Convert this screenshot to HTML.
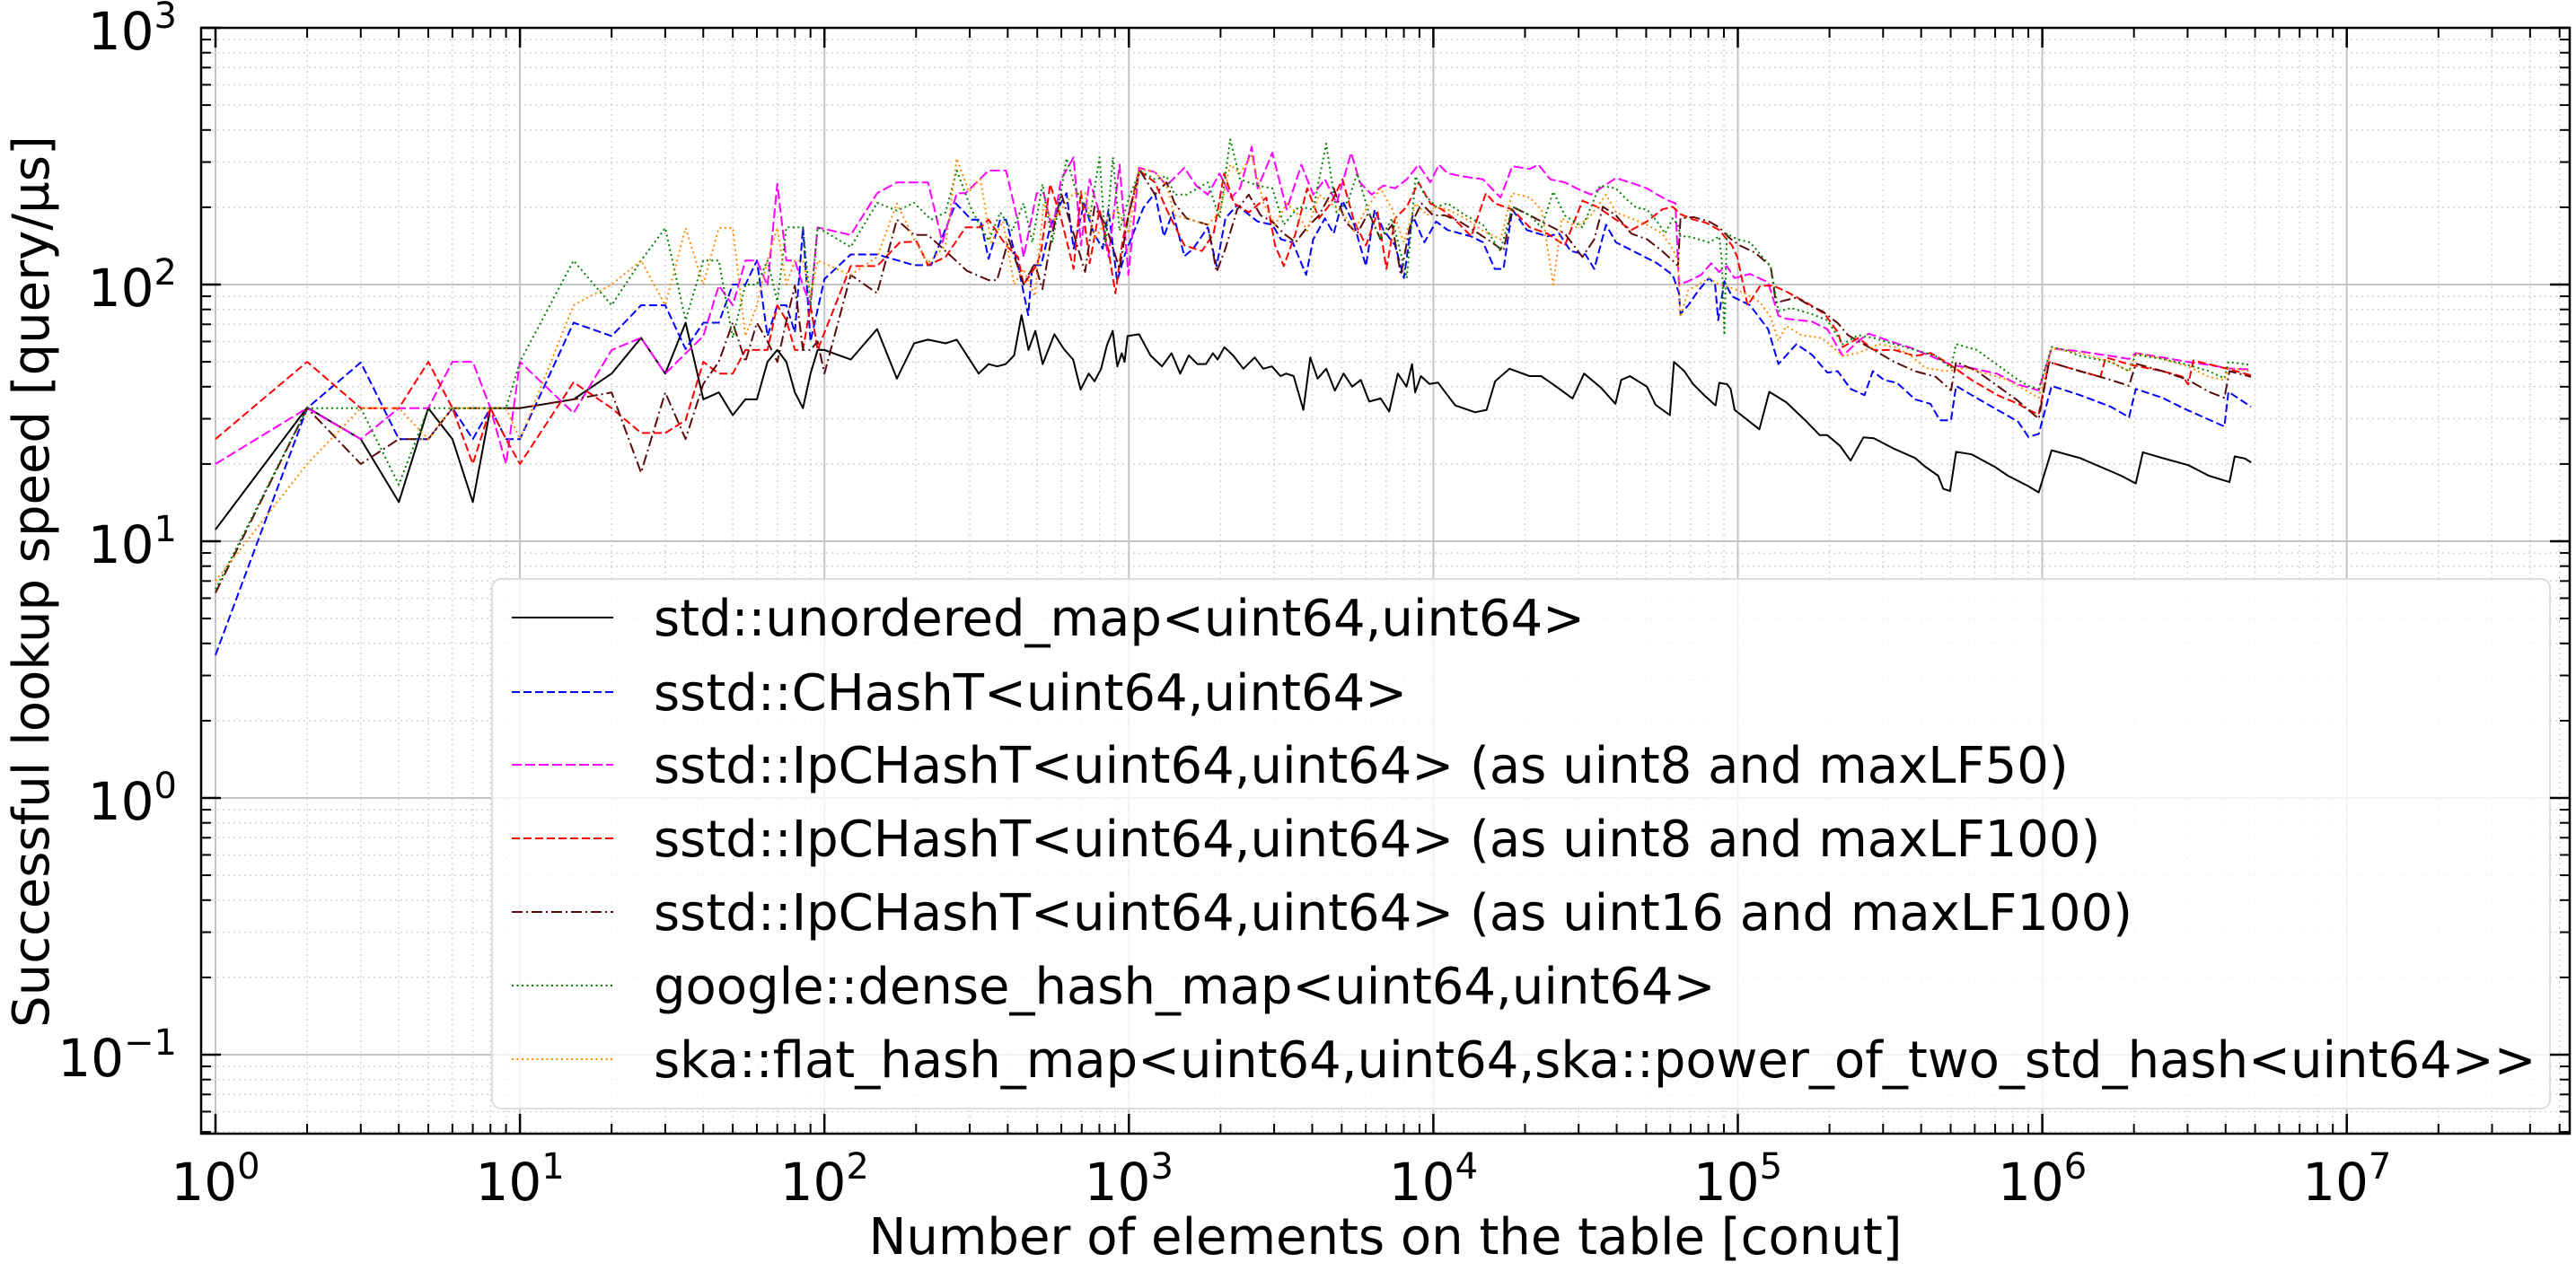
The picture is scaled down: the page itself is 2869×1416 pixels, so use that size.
<!DOCTYPE html>
<html><head><meta charset="utf-8"><style>
html,body{margin:0;padding:0;background:#fff;}
svg{display:block;font-family:"DejaVu Sans","Liberation Sans",sans-serif;}
</style></head><body>
<svg id="chart" width="2869" height="1416" viewBox="0 0 2869 1416" xmlns="http://www.w3.org/2000/svg">
<defs><clipPath id="plotclip"><rect x="224" y="31" width="2638" height="1232"/></clipPath></defs>
<rect x="0" y="0" width="2869" height="1416" fill="#fff"/>
<g id="grid"></g>
<g id="series" clip-path="url(#plotclip)"></g>
<g id="legend"></g>
<rect x="224" y="31" width="2638" height="1232" fill="none" stroke="#000" stroke-width="2.5"/>
<g id="ticks"></g>
<text x="1543" y="1397" font-size="56" text-anchor="middle">Number of elements on the table [conut]</text>
<text transform="translate(54,648) rotate(-90)" font-size="56" text-anchor="middle">Successful lookup speed [query/µs]</text>
</svg>
<script>
const NS="http://www.w3.org/2000/svg";
const xTickExps=[0,1,2,3,4,5,6,7];
const yTickExps=[-1,0,1,2,3];
const seriesNames=["std::unordered_map<uint64,uint64>","sstd::CHashT<uint64,uint64>","sstd::IpCHashT<uint64,uint64> (as uint8 and maxLF50)","sstd::IpCHashT<uint64,uint64> (as uint8 and maxLF100)","sstd::IpCHashT<uint64,uint64> (as uint16 and maxLF100)","google::dense_hash_map<uint64,uint64>","ska::flat_hash_map<uint64,uint64,ska::power_of_two_std_hash<uint64>>"];

const stdX=[1,2,3,4,5,6,7,8,9,10,15,20,25,30,35,40,45,50,55,60,65,70,75,80,85,90,95,
100,122,149,173,197,219,250,272,321,346,369,394,420,444,468,493,521,569,612,656,694,738,771,811,847,885,916,948,968,990,1080,1177,1284,1381,1474,1573,1679,1791,1888,1954,2059,2198,2377,2590,2762,2948,3146,3286,3476,3741,3942,4168,4449,4749,5070,5411,5774,6159,6714,7161,7644,8164,8511,8710,9100,9705,10350,11800,13710,14960,15960,17780,20700,22590,24600,28640,31260,35560,39630,41400,44200,50300,53700,59800,61700,66700,71200,77600,
84500,86900,92100,94700,97600,117700,126800,144200,168400,185800,196800,216900,234600,258600,279800,326700,382000,413000,455000,473000,498000,521000,586000,698000,771000,900000,973000,1073000,1330000,1817000,2027000,2139000,2482000,3015000,3524000,4120000,4285000,4627000,4850000];
const stdY=[11.1,33.2,25,14.2,33,25,14.2,33,33,33,35.7,45,62,45,71,35.7,38,31,35.7,35.7,50,55.6,50,38,33,45,55.6,
55.6,51,67,43,59,61,59,61,45,49,48,49,53,76,55.6,66,49,64,56,51,39,45,42,47,58,66,48,54,50,63,64,53,48,54,45,53,49,49,54,51,57,53,47,52,47,48,44,45,44,32.5,52,43,47,38.6,45,40,42.5,35,36,32,45,40,49,38,44,41,41.5,33.8,31.8,32.5,42,47,44,44,41,36,45,39.6,34.3,42.5,44,40,34,31,50,46,41,37,
33.8,41.4,40.9,39.2,32.5,27.3,38.2,34.8,29.2,25.9,25.9,23.5,20.6,25.4,25.2,22.9,21.1,19.5,18,16,15.7,22.3,21.8,19.5,18,16.4,15.5,22.6,21.1,18,16.8,22.2,21.1,19.8,18,17,21.4,21,20.3];

const chX=[1,2,3,4,5,6,7,8,9,10,15,20,25,30,35,40,45,50,55,60,65,70,75,80,85,90,100,
122,149,197,224,270,304,325,346,378,395,432,467,482,515,551,589,624,658,712,768,820,857,915,970,1116,1218,1303,1393,1522,1627,1817,1942,2075,2268,2424,2648,2957,3160,3451,3820,4030,4403,4706,5029,5495,6004,6415,6854,7489,8002,8550,9342,10210,11150,13320,14560,15910,16990,18160,20290,23680,25880,28270,31600,33770,36900,
39800,46500,54300,61100,64100,64800,68700,74300,80400,84200,86200,90300,95700,109700,125700,135900,155800,175100,196800,212800,234600,260600,277400,302100,333100,382000,429500,460600,501300,521000,586000,712000,833000,900000,973000,1073000,1330000,1680000,1927000,2027000,2482000,2900000,3388000,3962000,4085000,4850000];
const chY=[3.6,33,49.7,25,25,33,25,33,25,25,71,63,83,83,56,71,71,100,100,124,63,83,83,65,167,60,105,
131,131,119,119,207,179,179,126,179,179,119,76,119,119,167,201,227,138,207,158,138,196,103,131,199,227,154,191,129,138,167,118,181,204,191,176,171,150,146,109,150,181,158,212,171,118,196,163,142,106,186,146,176,163,154,146,115,115,196,163,154,158,135,131,115,171,
146,133,121,109,92.5,76.7,83,95,106,100,72.6,103,90,83,67,49,58.6,53.3,45.4,46,39.2,37.1,46,42.5,41.4,35.7,34.3,29.6,29.6,40.3,37.1,32.5,29.2,25.5,26.2,40.3,37.1,33.4,30.4,39.2,36.2,33,30.4,28,38.2,33.4];

const ip8aX=[1,2,3,4,5,6,7,8,9,10,15,20,25,30,40,45,50,55,60,65,70,75,80,85,90,95,
122,149,173,219,244,272,291,346,395,432,451,498,525,561,599,658,696,743,820,857,932,996,1080,1218,1330,1522,1662,1817,1985,2168,2317,2532,2648,2957,3300,3685,4030,4403,4810,5370,5740,6270,6854,7489,8180,8940,9770,10430,11150,12450,14560,16620,18160,20740,22150,24200,27030,29530,32970,
39800,45600,50300,54300,58800,62400,64100,68700,75700,81800,86900,92000,97600,109700,125700,135900,144200,175100,196800,221000,248700,269000,314300,374000,429500,501300,586000,712000,833000,900000,973000,1073000,1330000,1680000,1927000,2027000,2482000,3015000,3524000,4120000,4850000];
const ip8aY=[20,33,25,33,33,50,50,33,20,50,31.6,55.6,62,45,63,99,83,124,124,99,247,124,124,99,83,167,
156,227,250,250,146,227,227,278,278,176,128,227,227,162,257,313,142,257,171,128,293,109,285,274,243,285,243,224,271,218,237,344,237,326,196,293,224,257,207,326,250,224,243,237,257,293,250,293,271,264,257,218,289,282,293,257,250,237,224,
260,247,237,224,213,207,100,103,109,121,112,118,106,110,102,75.6,73.6,71.7,67,52.7,60.3,64.4,60.3,56.4,52.7,48.6,47.3,44.9,40.8,39.7,38.7,56.4,54.9,52.7,51.3,54.1,52,49.9,48.6,47.1,46.7];

const ip8bX=[1,2,3,4,5,6,7,8,9,10,15,20,25,30,35,40,45,50,55,60,65,70,75,80,85,90,95,
122,149,177,201,219,250,291,325,346,395,432,451,498,515,551,599,658,696,743,801,857,903,955,1080,1218,1330,1522,1738,1899,2055,2214,2476,2828,3021,3226,3526,3853,4210,4602,5029,5495,6004,6560,7010,7489,8180,8940,9770,10670,11660,13320,14880,15910,18160,20740,23680,27030,30870,34450,
39800,44700,50300,56400,61100,64800,71500,78700,86900,92000,95700,99600,107700,118600,130700,144200,168400,193000,212800,221000,248700,279800,326700,382000,429500,483000,586000,712000,833000,900000,973000,1052000,1330000,1553000,1615000,1963000,2482000,2900000,3015000,3134000,3962000,4850000];
const ip8bY=[25,50,33,33,50,33,20,33,25,20,41.6,33,26.4,26.4,29.6,50,45,45,55.6,55.6,55.6,83,72.6,55.6,55.6,83,55.6,
118,118,146,147,119,128,167,167,179,142,128,100,119,135,246,181,115,230,121,196,135,92.5,150,278,250,196,142,135,158,271,207,191,218,142,118,158,237,181,207,257,176,142,191,115,181,201,250,207,196,181,154,227,207,196,167,158,142,212,201,
179,163,176,196,201,188,179,174,163,150,142,128,83,99,99,94,85,76.7,65.3,57.1,61.9,55.6,55.6,52.7,54.1,49.9,42.5,37.1,34.3,32.5,31.2,49.9,46,43.7,52,48.6,46,43.7,40.8,50.6,47.3,44.3];

const ip16X=[1,2,3,4,5,6,7,8,9,10,15,20,25,30,35,40,45,50,55,60,65,70,75,80,85,90,95,100,
122,149,173,197,219,250,294,346,369,403,451,491,520,551,599,658,718,771,839,932,996,1088,1218,1330,1414,1548,1817,1942,2075,2268,2476,2708,2957,3226,3526,3853,4210,4706,5140,5617,6134,6702,7324,7822,8360,9136,9970,10910,12200,13640,15570,16990,18160,20740,23680,27030,30870,33770,36050,
39800,44700,50300,56400,61100,63600,64800,71500,80400,86900,93800,101400,114000,128100,133400,155800,175100,189200,212800,230000,258600,279800,326700,382000,446700,501300,521000,609500,712000,833000,900000,973000,1052000,1330000,1680000,1927000,2027000,2482000,3015000,3524000,3962000,4120000,4850000];
const ip16Y=[6.3,33,20,25,25,33,33,33,33,33,35.7,38,18.5,38,25,41,50,71,50,71,60,50,72,99,55.6,55.6,60,45,
109,92.5,179,156,156,135,113,104,104,150,100,121,96,142,227,158,112,201,171,115,186,278,224,250,207,181,171,112,138,196,224,186,176,158,146,167,186,237,176,158,191,150,171,109,167,207,186,186,176,162,146,135,201,186,171,158,128,150,201,
186,158,150,135,124,118,181,183,176,167,152,142,133,118,85,89,82,78.8,70.8,63.5,58.6,55.6,49.9,46,43.7,38.7,49.9,46,40.3,35.2,32.5,30,49.9,46,42.5,40.3,49.2,46,42.5,38.2,36.2,46,43.7];

const denseX=[1,2,3,4,5,6,7,8,9,10,15,20,25,30,35,40,45,50,55,60,65,70,75,80,85,90,95,
122,149,173,197,224,250,272,304,346,378,414,451,482,520,561,624,667,743,801,838,886,932,1000,1088,1218,1330,1414,1548,1817,1985,2153,2317,2648,2957,3226,3610,4030,4444,4810,5253,5617,6134,6702,7324,8180,8740,9342,10210,11150,12740,14560,16620,18160,20740,22660,24750,27030,30870,35230,
39800,43000,46500,50300,54300,57700,61100,63600,64800,68700,74300,80400,86900,88600,90300,92000,99600,109700,118600,128100,135900,150000,175100,196800,221000,248700,279800,326700,382000,446700,501300,521000,609500,712000,833000,900000,973000,1073000,1183000,1330000,1680000,1927000,2027000,2482000,3015000,3524000,3962000,4085000,4850000];
const denseY=[6.5,33,33,16.6,33,33,33,33,33,50,124,83,124,166,72.6,124,124,62,100,100,124,86,167,167,167,83,167,
140,208,194,208,179,191,278,196,148,191,162,207,146,246,146,310,237,181,313,142,313,162,218,278,257,264,224,224,250,181,368,257,243,237,171,201,196,354,191,212,271,191,150,181,106,264,224,201,207,186,171,135,201,186,167,230,186,167,243,
237,215,199,196,176,158,181,171,154,154,150,146,154,124,63.5,158,150,146,131,118,78.8,80.9,76.7,72.6,58.6,63.5,61.9,58.6,55.6,52.7,47.3,58.6,55.6,48.6,42.5,40.3,39.2,57.1,55.6,52.7,49.9,46,53.3,51.3,48.6,46,43.1,49.9,48.6];

const skaX=[1,2,3,4,5,6,7,8,9,10,15,20,25,30,35,40,45,50,55,60,65,70,75,80,85,90,95,
122,149,173,197,219,250,272,298,325,353,386,420,451,491,525,561,599,658,718,771,839,916,1000,1080,1218,1330,1414,1548,1817,1985,2153,2317,2532,2770,3021,3300,3610,3853,4210,4602,5029,5495,6004,6702,7324,8002,8740,9550,10210,11150,12740,14560,16620,18160,20740,22660,24750,26420,29530,32970,36900,
39800,44700,50300,56400,61100,63600,64800,68700,74300,80400,86900,93800,105500,118600,128100,135900,144200,161800,189200,221000,248700,290400,326700,367000,413000,483000,563000,659000,771000,900000,973000,1073000,1330000,1680000,1927000,2027000,2482000,3015000,3524000,3962000,4085000,4850000];
const skaY=[7,20,33,33,25,33,33,33,33,25,83,100,124,83,166,100,166,166,63,83,124,166,100,124,124,90,124,
109,128,207,150,121,142,310,230,257,146,176,100,115,90,207,176,196,227,227,150,176,196,158,282,274,243,186,181,171,191,293,271,318,207,171,207,186,162,224,207,191,162,196,237,196,146,207,186,201,196,181,162,150,227,218,196,100,181,167,186,224,
191,181,171,158,138,124,74.6,95,100,106,100,97.7,92.5,85,74.6,60.3,68.9,63.5,61.9,52.7,54.1,58.6,57.1,53.3,47.3,46,47.3,44.9,42.5,38.2,36.2,56.4,54.1,49.9,46,54.1,51.3,48,43.7,42.5,47.3,46];

const L=224,T=31,R=2862,B=1263,X0=240,DX=339.1,Y3=31,DY=286;
function sx(x){return X0+DX*Math.log10(x);}
function sy(v){return Y3+DY*(3-Math.log10(v));}
function mk(tag,attrs,parent){const e=document.createElementNS(NS,tag);for(const k in attrs)e.setAttribute(k,attrs[k]);parent.appendChild(e);return e;}

const grid=document.getElementById('grid');
const ticks=document.getElementById('ticks');
for(let e=0;e<=7;e++){for(let m=2;m<=9;m++){const v=m*Math.pow(10,e);const x=sx(v);if(x>R)continue;
const gl=mk('line',{x1:x,y1:T,x2:x,y2:B,stroke:'#d4d4d4','stroke-width':1.5,'stroke-dasharray':'2 4'},grid);


const t1=mk('line',{x1:x,y1:B,x2:x,y2:B-11,stroke:'#000','stroke-width':2},ticks);


const t2=mk('line',{x1:x,y1:T,x2:x,y2:T+11,stroke:'#000','stroke-width':2},ticks);

}}
for(let e=-2;e<=2;e++){for(let m=2;m<=9;m++){const v=m*Math.pow(10,e);const y=sy(v);if(y>B||y<T)continue;
const gl=mk('line',{x1:L,y1:y,x2:R,y2:y,stroke:'#d4d4d4','stroke-width':1.5,'stroke-dasharray':'2 4'},grid);


const t1=mk('line',{x1:L,y1:y,x2:L+11,y2:y,stroke:'#000','stroke-width':2},ticks);


const t2=mk('line',{x1:R,y1:y,x2:R-11,y2:y,stroke:'#000','stroke-width':2},ticks);

}}
xTickExps.forEach(e=>{const x=sx(Math.pow(10,e));
const gl=mk('line',{x1:x,y1:T,x2:x,y2:B,stroke:'#c4c4c4','stroke-width':2},grid);


const t1=mk('line',{x1:x,y1:B,x2:x,y2:B-22,stroke:'#000','stroke-width':2.5},ticks);


const t2=mk('line',{x1:x,y1:T,x2:x,y2:T+22,stroke:'#000','stroke-width':2.5},ticks);


const tx=mk('text',{x:x,y:1337,'font-size':58,'text-anchor':'middle'},ticks);


const a=mk('tspan',{},tx);a.textContent='10';
const b=mk('tspan',{dy:-24,'font-size':40},tx);b.textContent=String(e);});
yTickExps.forEach(e=>{const y=sy(Math.pow(10,e));
const gl=mk('line',{x1:L,y1:y,x2:R,y2:y,stroke:'#c4c4c4','stroke-width':2},grid);


const t1=mk('line',{x1:L,y1:y,x2:L+22,y2:y,stroke:'#000','stroke-width':2.5},ticks);


const t2=mk('line',{x1:R,y1:y,x2:R-22,y2:y,stroke:'#000','stroke-width':2.5},ticks);


const tx=mk('text',{x:197,y:y+24,'font-size':58,'text-anchor':'end'},ticks);


const a=mk('tspan',{},tx);a.textContent='10';
const b=mk('tspan',{dy:-24,'font-size':40},tx);b.textContent=(e<0?'\u2212'+(-e):String(e));});

const styles=[
 {c:'#000000',d:'',k:'std-unordered-map'},
 {c:'#0000ff',d:'9 4',k:'sstd-chasht'},
 {c:'#ff00ff',d:'11 4',k:'sstd-ipchasht-uint8-lf50'},
 {c:'#ff0000',d:'9 4',k:'sstd-ipchasht-uint8-lf100'},
 {c:'#5a0a0a',d:'12 4 2 4',k:'sstd-ipchasht-uint16-lf100'},
 {c:'#008000',d:'2 3.5',k:'google-dense-hash-map'},
 {c:'#ff8c00',d:'2 3.5',k:'ska-flat-hash-map'}];
const data=[[stdX,stdY],[chX,chY],[ip8aX,ip8aY],[ip8bX,ip8bY],[ip16X,ip16Y],[denseX,denseY],[skaX,skaY]];
const sg=document.getElementById('series');
data.forEach((d,i)=>{const n=Math.min(d[0].length,d[1].length);let p='';
for(let j=0;j<n;j++){p+=(j?'L':'M')+sx(d[0][j]).toFixed(1)+' '+sy(d[1][j]).toFixed(1);}
const path=mk('path',{d:p,fill:'none',stroke:styles[i].c,'stroke-width':2,'stroke-linejoin':'round'},sg);
if(styles[i].d)path.setAttribute('stroke-dasharray',styles[i].d);

});

const lg=document.getElementById('legend');
const box=mk('rect',{x:548,y:645,width:2292,height:590,rx:10,fill:'rgba(255,255,255,0.8)',stroke:'#dddddd','stroke-width':2},lg);


const rowY=[688,771,852,934,1016,1098,1180];
seriesNames.forEach((nm,i)=>{const g=mk('g',{},lg);


const ln=mk('line',{x1:570,y1:rowY[i],x2:683,y2:rowY[i],stroke:styles[i].c,'stroke-width':2},g);
if(styles[i].d)ln.setAttribute('stroke-dasharray',styles[i].d);


const t=mk('text',{x:728,y:rowY[i]+20,'font-size':56},g);


t.textContent=nm;});
</script>
</body></html>
